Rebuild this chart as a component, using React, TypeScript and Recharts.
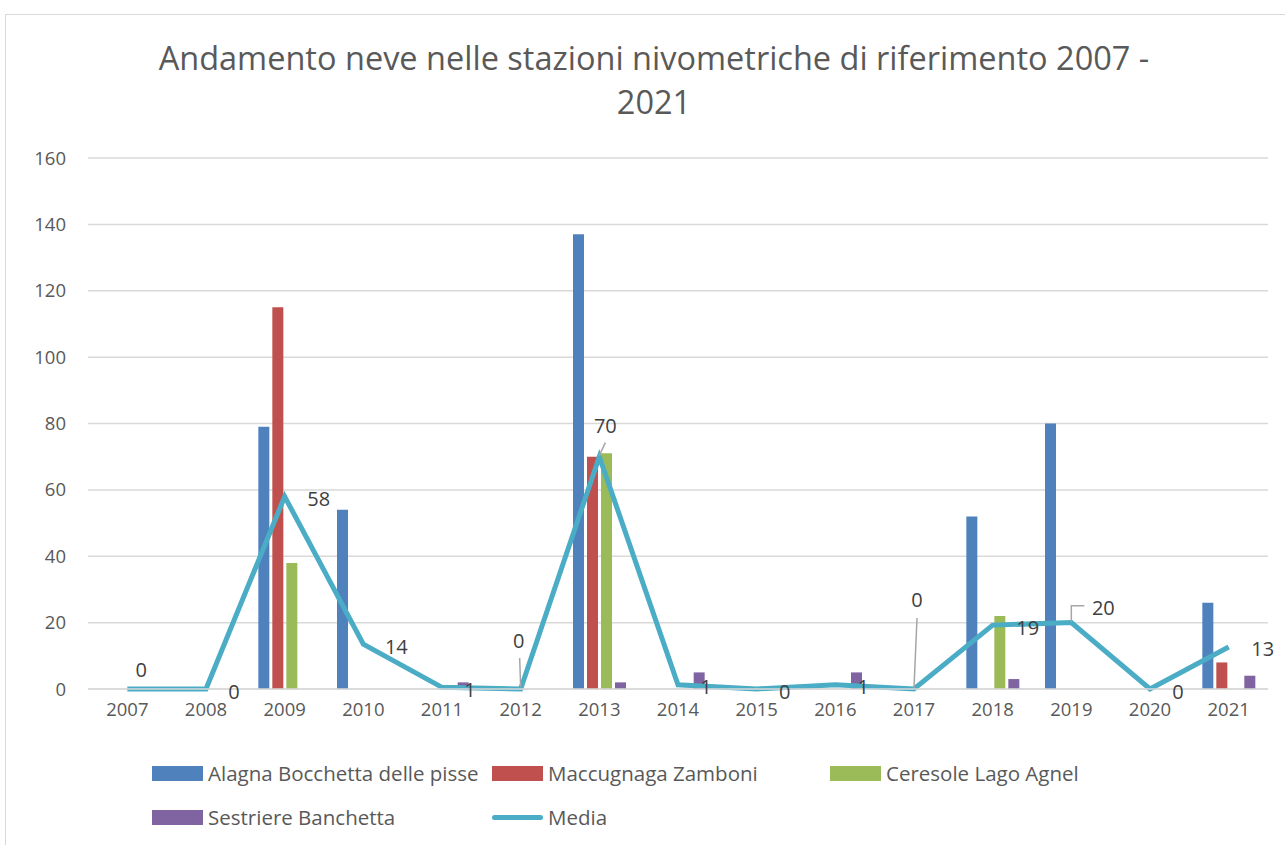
import React from "react";
import {
  ComposedChart,
  Bar,
  Line,
  XAxis,
  YAxis,
  CartesianGrid,
  Legend,
} from "recharts";

const years = ["2007", "2008", "2009", "2010", "2011", "2012", "2013", "2014", "2015", "2016", "2017", "2018", "2019", "2020", "2021"];
const alagna = [0, 0, 79, 54, 0, 0, 137, 0, 0, 0, 0, 52, 80, 0, 26];
const maccugnaga = [0, 0, 115, 0, 0, 0, 70, 0, 0, 0, 0, 0, 0, 0, 8];
const ceresole = [0, 0, 38, 0, 0, 0, 71, 0, 0, 0, 0, 22, 0, 0, 0];
const sestriere = [0, 0, 0, 0, 2, 0, 2, 5, 0, 5, 0, 3, 0, 0, 4];
const media = [0, 0, 58, 13.5, 0.5, 0, 70, 1.25, 0, 1.25, 0, 19.25, 20, 0, 12.67];
const mediaLabels = ["0", "0", "58", "14", "1", "0", "70", "1", "0", "1", "0", "19", "20", "0", "13"];
const yTicks = [0, 20, 40, 60, 80, 100, 120, 140, 160];

const seriesNames = {
  alagna: "Alagna Bocchetta delle pisse",
  maccugnaga: "Maccugnaga Zamboni",
  ceresole: "Ceresole Lago Agnel",
  sestriere: "Sestriere Banchetta",
  media: "Media",
};

const colors = {
  alagna: "#4f81bd",
  maccugnaga: "#c0504d",
  ceresole: "#9bbb59",
  sestriere: "#8064a2",
  media: "#4bacc6",
};

const data = years.map((y, i) => ({
  year: y,
  alagna: alagna[i],
  maccugnaga: maccugnaga[i],
  ceresole: ceresole[i],
  sestriere: sestriere[i],
  media: media[i],
}));

// label placement (styling only): offset of label centre from the point
const labelOffsets: [number, number][] = [
  [14, -20], [28, 2], [34, 2], [33, 2], [28, 2], [-2, -49], [6, -31], [28, 2],
  [28, 2], [28, 2], [3, -90], [35, 2], [32, -15], [28, 2], [34, 2],
];
// leader lines (styling only): relative polylines
const leaders: Record<number, [number, number][]> = {
  5: [[0, -2], [-1, -31]],
  6: [[0, -1], [6, -14]],
  10: [[0, -1], [3, -71]],
  12: [[0, -1], [0, -17], [13, -17]],
};

const FONT = "'Open Sans', 'Noto Sans', sans-serif";
const TEXT = "#595959";

const renderLabel = (props: any) => {
  const { x, y, index } = props;
  if (x == null || y == null) return null;
  const [dx, dy] = labelOffsets[index] || [0, -10];
  const lead = leaders[index];
  return (
    <g key={`lbl-${index}`}>
      {lead && (
        <polyline
          points={lead.map(([a, b]) => `${x + a},${y + b}`).join(" ")}
          fill="none"
          stroke="#a6a6a6"
          strokeWidth={1.5}
        />
      )}
      <text
        x={x + dx}
        y={y + dy}
        textAnchor="middle"
        dominantBaseline="central"
        fontFamily={FONT}
        fontSize={20}
        fill="#404040"
      >
        {mediaLabels[index]}
      </text>
    </g>
  );
};

const legendItems = [
  { key: "alagna", x: 152, y: 773 },
  { key: "maccugnaga", x: 492, y: 773 },
  { key: "ceresole", x: 830, y: 773 },
  { key: "sestriere", x: 152, y: 817 },
  { key: "media", x: 492, y: 817 },
];

const renderLegend = () => (
  <div style={{ position: "relative", width: 1285, height: 80 }}>
    {legendItems.map((it) => {
      const k = it.key as keyof typeof colors;
      const isLine = k === "media";
      return (
        <div
          key={k}
          style={{
            position: "absolute",
            left: it.x,
            top: it.y - 758 - 14,
            height: 28,
            display: "flex",
            alignItems: "center",
            whiteSpace: "nowrap",
          }}
        >
          {isLine ? (
            <div style={{ width: 51, height: 5, borderRadius: 3, background: colors[k], marginRight: 5 }} />
          ) : (
            <div style={{ width: 51, height: 15, background: colors[k], marginRight: 5 }} />
          )}
          <span style={{ fontFamily: FONT, fontSize: 20.5, color: TEXT }}>{seriesNames[k]}</span>
        </div>
      );
    })}
  </div>
);

export default function App() {
  return (
    <div style={{ position: "absolute", left: 0, top: 0, width: 1285, height: 845, overflow: "hidden", background: "#fff" }}>
      <div
        style={{
          position: "absolute",
          left: 5,
          top: 14,
          width: 1400,
          height: 1000,
          border: "1.5px solid #d9d9d9",
        }}
      />
      <div
        style={{
          position: "absolute",
          left: 0,
          top: 36,
          width: 1308,
          textAlign: "center",
          fontFamily: FONT,
          fontSize: 32.5,
          lineHeight: "44px",
          color: TEXT,
        }}
      >
        Andamento neve nelle stazioni nivometriche di riferimento 2007 -
        <br />
        2021
      </div>
      <div style={{ position: "absolute", left: 0, top: 0 }}>
        <ComposedChart
          width={1285}
          height={845}
          data={data}
          margin={{ top: 158, right: 17, bottom: 126, left: 0 }}
          barSize={11}
          barGap={3}
        >
          <CartesianGrid vertical={false} stroke="#d9d9d9" strokeWidth={1.5} />
          <XAxis
            dataKey="year"
            axisLine={{ stroke: "#d9d9d9", strokeWidth: 1.5 }}
            tickLine={false}
            tickSize={0}
            tickMargin={14}
            height={30}
            tick={{ fontFamily: FONT, fontSize: 18.5, fill: TEXT }}
            interval={0}
          />
          <YAxis
            domain={[0, 160]}
            ticks={yTicks}
            width={88}
            axisLine={false}
            tickLine={false}
            tickSize={0}
            tickMargin={22}
            tick={{ fontFamily: FONT, fontSize: 18.5, fill: TEXT }}
          />
          <Bar dataKey="alagna" name={seriesNames.alagna} fill={colors.alagna} isAnimationActive={false} />
          <Bar dataKey="maccugnaga" name={seriesNames.maccugnaga} fill={colors.maccugnaga} isAnimationActive={false} />
          <Bar dataKey="ceresole" name={seriesNames.ceresole} fill={colors.ceresole} isAnimationActive={false} />
          <Bar dataKey="sestriere" name={seriesNames.sestriere} fill={colors.sestriere} isAnimationActive={false} />
          <Line
            dataKey="media"
            name={seriesNames.media}
            stroke={colors.media}
            strokeWidth={5}
            dot={false}
            activeDot={false}
            type="linear"
            isAnimationActive={false}
            label={renderLabel}
          />
          <Legend
            layout="horizontal"
            verticalAlign="middle"
            align="center"
            content={renderLegend}
            wrapperStyle={{ position: "absolute", left: 0, top: 758, width: 1285, height: 80 }}
          />
        </ComposedChart>
      </div>
    </div>
  );
}
